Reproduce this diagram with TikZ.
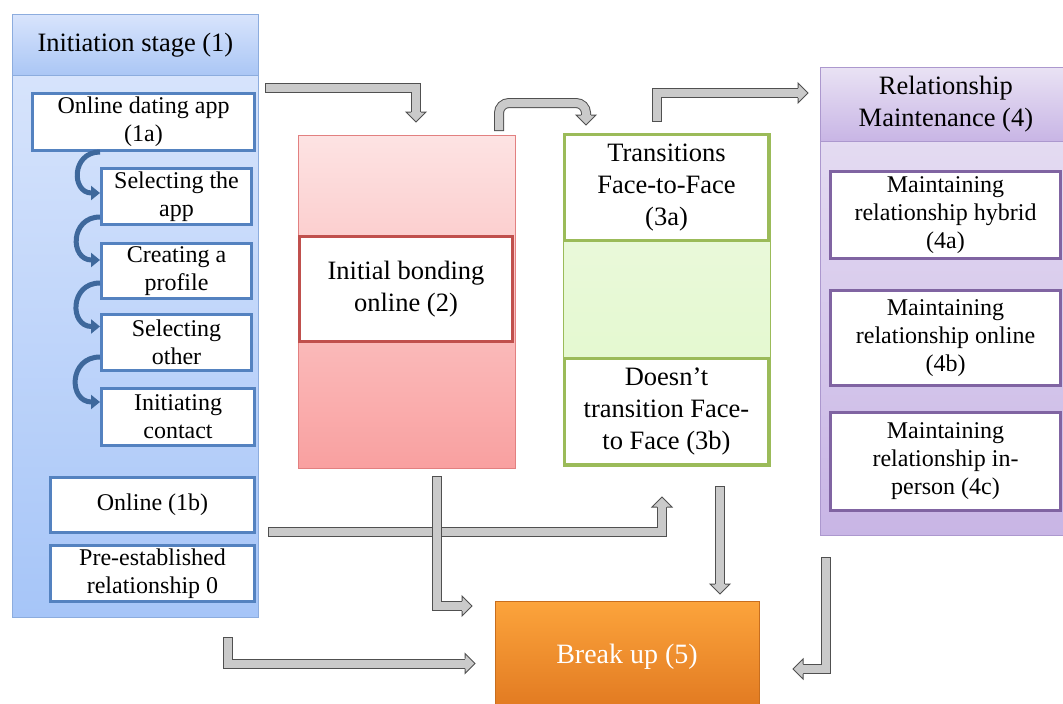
\documentclass[tikz,border=0pt]{standalone}
\usepackage{fontspec}
\setmainfont{Liberation Serif}
\usetikzlibrary{arrows.meta}

\definecolor{stageline}{RGB}{84,130,192}
\definecolor{paneledge}{RGB}{140,172,222}
\definecolor{blueTop}{RGB}{220,231,252}
\definecolor{blueBot}{RGB}{166,197,248}
\definecolor{blueHeadTop}{RGB}{216,228,252}
\definecolor{blueHeadBot}{RGB}{170,198,245}
\definecolor{redTop}{RGB}{253,227,227}
\definecolor{redBot}{RGB}{249,160,160}
\definecolor{redEdge}{RGB}{226,128,128}
\definecolor{bondline}{RGB}{192,80,77}
\definecolor{greenTop}{RGB}{238,250,226}
\definecolor{greenBot}{RGB}{224,248,200}
\definecolor{faceline}{RGB}{155,187,89}
\definecolor{purpleTop}{RGB}{233,226,244}
\definecolor{purpleBot}{RGB}{200,181,229}
\definecolor{purpleEdge}{RGB}{172,152,206}
\definecolor{maintline}{RGB}{128,100,162}
\definecolor{orangeTop}{RGB}{252,164,60}
\definecolor{orangeBot}{RGB}{224,120,32}
\definecolor{orangeEdge}{RGB}{200,110,30}
\definecolor{curlblue}{RGB}{62,104,156}
\definecolor{arrowline}{RGB}{80,80,80}
\definecolor{arrowfill}{RGB}{202,202,202}

\newcommand{\fsmall}{\fontsize{24}{28}\selectfont}
\newcommand{\fbig}{\fontsize{26.5}{32}\selectfont}
\newcommand{\fbreak}{\fontsize{28}{32}\selectfont}
\newcommand{\blockhead}[2]{
  \filldraw[blockhead, rotate around={#2:(#1)}]
    (#1) ++(0,-5) -- ++(0,-5) -- ++(10,10) -- ++(-10,10) -- ++(0,-5);
}

\tikzset{
  panel/.style     = {draw=#1, line width=0.8pt, anchor=north west, inner sep=0pt},
  stepbox/.style   = {draw=stageline, line width=3pt, fill=white, align=center,
                      font=\fsmall, inner sep=0pt},
  bondbox/.style   = {stepbox, draw=bondline, font=\fbig},
  facebox/.style   = {stepbox, draw=faceline, font=\fbig},
  maintbox/.style  = {stepbox, draw=maintline},
  breakbox/.style  = {draw=orangeEdge, line width=0.6pt, top color=orangeTop,
                      bottom color=orangeBot, text=white, font=\fbreak,
                      minimum width=264pt, minimum height=112pt},
  curl/.style      = {draw=curlblue, line width=5pt, out=180, in=180, looseness=1.8,
                      -{Triangle[length=9pt,width=14pt]}},
  bigarrow/.style  = {draw=arrowline, double=arrowfill, double distance=8pt,
                      line width=1pt, line cap=rect},
  blockhead/.style = {fill=arrowfill, draw=arrowline, line width=1pt, line join=miter}
}

\begin{document}
\begin{tikzpicture}[x=1pt,y=-1pt]
\useasboundingbox (0,0) rectangle (1063,704);
\clip (0,0) rectangle (1063,704);

\node[panel=paneledge, top color=blueTop, bottom color=blueBot,
      minimum width=246pt, minimum height=603pt] (stage) at (12,14) {};
\node[panel=paneledge, top color=blueHeadTop, bottom color=blueHeadBot,
      minimum width=246pt, minimum height=61pt, font=\fbig] (stagehead) at (12,14) {Initiation stage (1)};

\node[panel=redEdge, top color=redTop, bottom color=redBot,
      minimum width=217pt, minimum height=333pt] (bondcol) at (298,135) {};
\node[panel=faceline, top color=greenTop, bottom color=greenBot,
      minimum width=207pt, minimum height=333pt] (facecol) at (563,133) {};

\node[panel=purpleEdge, top color=purpleTop, bottom color=purpleBot,
      minimum width=251pt, minimum height=468pt] (maint) at (820,67) {};
\node[panel=purpleEdge, top color=purpleTop, bottom color=purpleBot,
      minimum width=251pt, minimum height=74pt, font=\fbig, align=center] (mainthead) at (820,67)
      {Relationship\\Maintenance (4)};

\node[stepbox, minimum width=222pt, minimum height=57pt] (appA) at (143.5,122) {Online dating app\\(1a)};
\node[stepbox, minimum width=150pt, minimum height=56pt] (selApp) at (176.5,196.5) {Selecting the\\app};
\node[stepbox, minimum width=150pt, minimum height=55pt] (profile) at (176.5,271) {Creating a\\profile};
\node[stepbox, minimum width=150pt, minimum height=56pt] (selOther) at (176.5,342.5) {Selecting\\other};
\node[stepbox, minimum width=153pt, minimum height=57pt] (contact) at (178,417) {Initiating\\contact};
\node[stepbox, minimum width=204pt, minimum height=55pt] (onlineB) at (152.5,505) {Online (1b)};
\node[stepbox, minimum width=204pt, minimum height=56pt] (preEst) at (152.5,573.5) {Pre-established\\relationship 0};

\draw[curl] (appA.south -| selApp.west) to ([yshift=3.5pt]selApp.west);
\draw[curl] ([yshift=9pt]selApp.south west) to ([yshift=11pt]profile.west);
\draw[curl] ([yshift=17pt]profile.south west) to ([yshift=16pt]selOther.west);
\draw[curl] ([yshift=15pt]selOther.south west) to ([yshift=15pt]contact.west);

\node[bondbox, minimum width=213pt, minimum height=105pt] (bond) at (406,289) {Initial bonding\\online (2)};

\node[facebox, minimum width=204pt, minimum height=106pt] (faceA) at (666.5,187.5) {Transitions\\Face-to-Face\\(3a)};
\node[facebox, minimum width=204pt, minimum height=106pt] (faceB) at (666.5,411.5) {Doesn’t\\transition Face-\\to Face (3b)};

\node[maintbox, minimum width=230pt, minimum height=87pt] (maintA) at (945.5,215) {Maintaining\\relationship hybrid\\(4a)};
\node[maintbox, minimum width=230pt, minimum height=95pt] (maintB) at (945.5,338) {Maintaining\\relationship online\\(4b)};
\node[maintbox, minimum width=230pt, minimum height=98pt] (maintC) at (945.5,461.5) {Maintaining\\relationship in-\\person (4c)};

\node[breakbox] (breakup) at (627,657) {Break up (5)};

\coordinate (a1s) at (270,88);    \coordinate (a1e) at (416,112);
\coordinate (a2s) at (499,126);   \coordinate (a2e) at (586,115);
\coordinate (a3s) at (657,117);   \coordinate (a3e) at (798,93);
\coordinate (a4s) at (273,532);   \coordinate (a4e) at (662,507);
\coordinate (a5s) at (437,481);   \coordinate (a5e) at (462,606);
\coordinate (a6s) at (720,491);   \coordinate (a6e) at (720,584);
\coordinate (a7s) at (227.5,642); \coordinate (a7e) at (465,663.5);
\coordinate (a8s) at (826,562);   \coordinate (a8e) at (803,669);

\draw[bigarrow] (a1s) -| (a1e);
\blockhead{a1e}{-90}
\draw[bigarrow, rounded corners=10pt] (a2s) |- ([yshift=12pt]a2e) -- (a2e);
\blockhead{a2e}{-90}
\draw[bigarrow] (a3s) |- (a3e);
\blockhead{a3e}{0}
\draw[bigarrow] (a4s) -| (a4e);
\blockhead{a4e}{90}
\draw[bigarrow] (a5s) |- (a5e);
\blockhead{a5e}{0}
\draw[bigarrow] (a6s) -- (a6e);
\blockhead{a6e}{-90}
\draw[bigarrow] (a7s) |- (a7e);
\blockhead{a7e}{0}
\draw[bigarrow] (a8s) |- (a8e);
\blockhead{a8e}{180}
\end{tikzpicture}
\end{document}
